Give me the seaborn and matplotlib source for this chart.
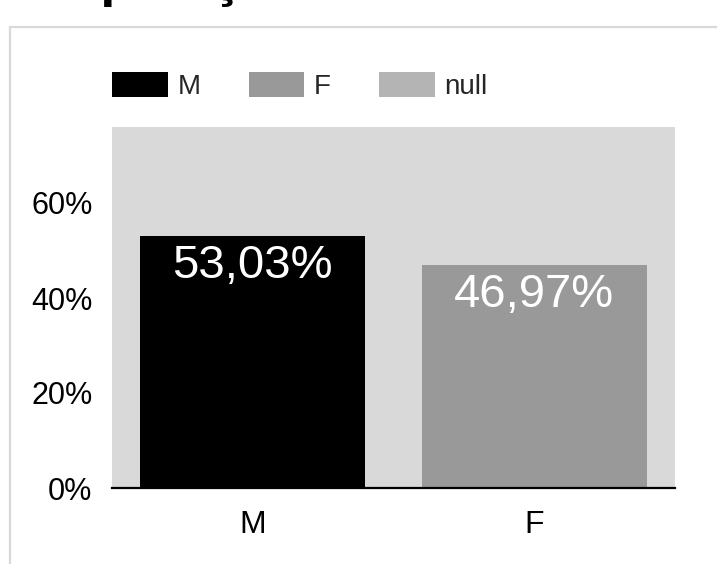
import matplotlib
matplotlib.use("Agg")
import matplotlib.pyplot as plt
from matplotlib.patches import Patch, Rectangle
from matplotlib.ticker import PercentFormatter
import seaborn as sns
import pandas as pd

# Data
categories = ["M", "F"]
shares = [0.5303, 0.4697]
legend_labels = ["M", "F", "null"]
legend_colors = ["#000000", "#999999", "#b4b4b4"]
y_ticks = [0.0, 0.2, 0.4, 0.6]
title_text = "Composição"

sns.set_theme(style="white")
plt.rcParams["font.family"] = ["Liberation Sans", "DejaVu Sans"]

W, H = 717, 564
fig = plt.figure(figsize=(W / 100, H / 100), dpi=100)
fig.patch.set_facecolor("white")

# Outer panel frame (only left and top edges fall inside the canvas)
fig.patches.append(Rectangle((10 / W, -0.1), 1.2, (H - 27) / H + 0.1,
                             transform=fig.transFigure, fill=False,
                             edgecolor="#d9d9d9", linewidth=1.6))

# Title, largely above the canvas
fig.text(-19 / W, (H + 4) / H, title_text, fontsize=39, fontweight="bold",
         ha="left", va="baseline", color="black")

ax = fig.add_axes([112 / W, (H - 488) / H, (675 - 112) / W, (488 - 127) / H])
ax.set_facecolor("#d9d9d9")

df = pd.DataFrame({"sexo": categories, "share": shares})
palette = dict(zip(legend_labels, legend_colors))
sns.barplot(data=df, x="sexo", y="share", hue="sexo", palette=palette,
            order=categories, width=0.8, saturation=1, legend=False, ax=ax,
            linewidth=0)

ax.set_xlim(-0.5, 1.5)
ax.set_ylim(0, 0.76)
ax.set_yticks(y_ticks)
ax.yaxis.set_major_formatter(PercentFormatter(1.0, decimals=0))
ax.tick_params(axis="y", length=0, pad=14, labelsize=22, labelcolor="black")
ax.tick_params(axis="x", length=0, pad=16, labelsize=23, labelcolor="black")
ax.set_xlabel("")
ax.set_ylabel("")
for side in ["top", "right", "left"]:
    ax.spines[side].set_visible(False)
ax.spines["bottom"].set_color("black")
ax.spines["bottom"].set_linewidth(1.6)
ax.grid(False)

# Value labels inside the top of each bar
for container in ax.containers:
    for bar in container:
        v = bar.get_height()
        ax.annotate(f"{v * 100:.2f}%".replace(".", ","),
                    (bar.get_x() + bar.get_width() / 2, v),
                    xytext=(0, -6), textcoords="offset points",
                    ha="center", va="top", color="white", fontsize=34)

handles = [Patch(facecolor=c, edgecolor="none") for c in legend_colors]
fig.legend(handles, legend_labels, loc="center left",
           bbox_to_anchor=(112 / W, (H - 86) / H), ncol=3, frameon=False,
           fontsize=20, handlelength=2.0, handleheight=1.0,
           handletextpad=0.36, columnspacing=1.73, borderpad=0,
           borderaxespad=0)

fig.savefig("out.png", dpi=100)
